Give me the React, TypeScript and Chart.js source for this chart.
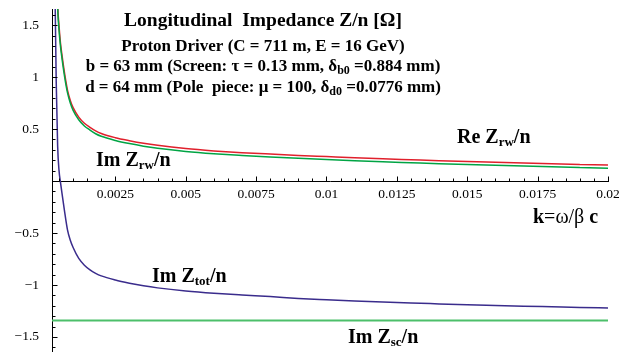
import React, { useEffect, useRef } from "react";
import { Chart, registerables } from "chart.js";

Chart.register(...registerables);

// k = omega / beta c
const K = [0.0003, 0.00035, 0.0004, 0.00045, 0.0005, 0.00055, 0.0006, 0.0007, 0.0008, 0.0009, 0.001, 0.0012, 0.0014, 0.0016, 0.0018, 0.002, 0.0025, 0.003, 0.0035, 0.004, 0.005, 0.006, 0.007, 0.008, 0.009, 0.01, 0.011, 0.012, 0.013, 0.014, 0.015, 0.016, 0.017, 0.018, 0.019, 0.02];
const RE_ZRW = [4.6, 3.38, 2.36, 1.72, 1.49, 1.33, 1.22, 1.03, 0.875, 0.775, 0.706, 0.615, 0.556, 0.516, 0.482, 0.457, 0.417, 0.388, 0.363, 0.343, 0.312, 0.29, 0.273, 0.259, 0.246, 0.235, 0.224, 0.214, 0.205, 0.196, 0.188, 0.181, 0.174, 0.167, 0.16, 0.153];
const IM_ZRW = [4.5, 3.3, 2.3, 1.68, 1.45, 1.3, 1.19, 1.0, 0.85, 0.75, 0.68, 0.59, 0.53, 0.49, 0.455, 0.43, 0.39, 0.36, 0.335, 0.315, 0.285, 0.263, 0.246, 0.231, 0.218, 0.206, 0.195, 0.185, 0.176, 0.167, 0.159, 0.151, 0.144, 0.137, 0.13, 0.123];
const IM_ZTOT = [3.2, 1.95, 0.95, 0.34, 0.1, -0.01, -0.11, -0.3, -0.47, -0.57, -0.64, -0.745, -0.81, -0.855, -0.888, -0.913, -0.953, -0.983, -1.008, -1.028, -1.058, -1.08, -1.097, -1.112, -1.13, -1.143, -1.155, -1.165, -1.174, -1.182, -1.19, -1.197, -1.204, -1.21, -1.216, -1.221];
const K_SC = [0.00025, 0.02];
const IM_ZSC = [-1.343, -1.343];

const X_MIN = 0.00025;
const X_MAX = 0.02;
const Y_MIN = -1.645;
const Y_MAX = 1.655;
const X_TICKS = [0.0025, 0.005, 0.0075, 0.01, 0.0125, 0.015, 0.0175, 0.02];
const X_TICK_LABELS = ["0.0025", "0.005", "0.0075", "0.01", "0.0125", "0.015", "0.0175", "0.02"];
const Y_TICKS = [-1.5, -1, -0.5, 0.5, 1, 1.5];
const Y_TICK_LABELS = ["\u22121.5", "\u22121", "\u22120.5", "0.5", "1", "1.5"];

const FAM = '"Liberation Serif", "Times New Roman", serif';

type Seg = { t: string; size: number; dy?: number; bold?: boolean };

function drawRich(ctx: CanvasRenderingContext2D, segs: Seg[], x: number, y: number, align: "left" | "center") {
  const fontOf = (s: Seg) => `${s.bold === false ? "" : "bold "}${s.size}px ${FAM}`;
  let total = 0;
  const widths = segs.map((s) => {
    ctx.font = fontOf(s);
    const w = ctx.measureText(s.t).width;
    total += w;
    return w;
  });
  let cx = align === "center" ? x - total / 2 : x;
  ctx.textAlign = "left";
  ctx.textBaseline = "alphabetic";
  ctx.fillStyle = "#000";
  segs.forEach((s, i) => {
    ctx.font = fontOf(s);
    ctx.fillText(s.t, cx, y + (s.dy || 0));
    cx += widths[i];
  });
}

const pts = (xs: number[], ys: number[]) => xs.map((x, i) => ({ x, y: ys[i] }));

const overlay = {
  id: "overlay",
  afterDraw(chart: any) {
    const ctx: CanvasRenderingContext2D = chart.ctx;
    const xs = chart.scales.x;
    const ys = chart.scales.y;
    const x0 = Math.round(xs.getPixelForValue(X_MIN)) + 0.5;
    const y0 = Math.round(ys.getPixelForValue(0)) + 0.5;
    ctx.save();
    ctx.strokeStyle = "#000";
    ctx.lineWidth = 1;
    ctx.beginPath();
    for (let i = 1; i <= 40; i++) {
      const v = i * 0.0005;
      if (v < X_MIN) continue;
      const px = Math.round(xs.getPixelForValue(v)) + 0.5;
      const len = i % 5 === 0 ? 5 : 3;
      ctx.moveTo(px, y0);
      ctx.lineTo(px, y0 - len);
    }
    for (let i = -16; i <= 16; i++) {
      if (i === 0) continue;
      const v = i * 0.1;
      const py = Math.round(ys.getPixelForValue(v)) + 0.5;
      const len = i % 5 === 0 ? 5 : 3;
      ctx.moveTo(x0, py);
      ctx.lineTo(x0 + len, py);
    }
    ctx.stroke();

    const cxT = 263;
    drawRich(ctx, [{ t: "Longitudinal  Impedance Z/n [\u03A9]", size: 19.5 }], cxT, 26, "center");
    drawRich(ctx, [{ t: "Proton Driver (C = 711 m, E = 16 GeV)", size: 17 }], cxT, 51, "center");
    drawRich(
      ctx,
      [
        { t: "b = 63 mm (Screen: \u03C4 = 0.13 mm, \u03B4", size: 17 },
        { t: "b0", size: 12, dy: 3 },
        { t: " =0.884 mm)", size: 17 },
      ],
      cxT,
      71,
      "center"
    );
    drawRich(
      ctx,
      [
        { t: "d = 64 mm (Pole  piece: \u03BC = 100, \u03B4", size: 17 },
        { t: "d0", size: 12, dy: 3 },
        { t: " =0.0776 mm)", size: 17 },
      ],
      cxT,
      92,
      "center"
    );

    const lab = (name: string, sub: string, x: number, y: number) =>
      drawRich(
        ctx,
        [
          { t: name, size: 20 },
          { t: sub, size: 13, dy: 3 },
          { t: "/n", size: 20 },
        ],
        x,
        y,
        "left"
      );
    lab("Im Z", "rw", 96, 166);
    lab("Re Z", "rw", 457, 143);
    lab("Im Z", "tot", 152, 282);
    lab("Im Z", "sc", 348, 343);
    drawRich(
      ctx,
      [
        { t: "k", size: 20 },
        { t: "=\u03C9/", size: 20, bold: false },
        { t: "\u03B2", size: 20, bold: false },
        { t: " c", size: 20 },
      ],
      533,
      223,
      "left"
    );
    ctx.restore();
  },
};

export default function App() {
  const ref = useRef<HTMLCanvasElement | null>(null);
  useEffect(() => {
    document.body.style.margin = "0";
    const canvas = ref.current;
    if (!canvas) return;
    const tickFont = { family: FAM, size: 13.5 };
    const chart = new Chart(canvas, {
      type: "scatter",
      data: {
        datasets: [
          {
            label: "Im Zsc/n",
            data: pts(K_SC, IM_ZSC),
            showLine: true,
            borderColor: "#4cbf6a",
            borderWidth: 2,
            pointRadius: 0,
          },
          {
            label: "Im Ztot/n",
            data: pts(K, IM_ZTOT),
            showLine: true,
            borderColor: "#3a2c8c",
            borderWidth: 1.5,
            pointRadius: 0,
            cubicInterpolationMode: "monotone",
          },
          {
            label: "Im Zrw/n",
            data: pts(K, IM_ZRW),
            showLine: true,
            borderColor: "#00a444",
            borderWidth: 1.5,
            pointRadius: 0,
            cubicInterpolationMode: "monotone",
          },
          {
            label: "Re Zrw/n",
            data: pts(K, RE_ZRW),
            showLine: true,
            borderColor: "#e0202c",
            borderWidth: 1.5,
            pointRadius: 0,
            cubicInterpolationMode: "monotone",
          },
        ],
      },
      options: {
        animation: false,
        responsive: false,
        events: [],
        layout: { padding: { top: 9, right: 28, bottom: 0, left: 0 } },
        plugins: { legend: { display: false }, tooltip: { enabled: false } },
        scales: {
          x: {
            type: "linear",
            position: { y: 0 } as any,
            min: X_MIN,
            max: X_MAX,
            grid: { display: false, drawTicks: false },
            border: { display: true, color: "#000", width: 1 },
            ticks: {
              padding: 5,
              font: tickFont,
              color: "#000",
              maxRotation: 0,
              autoSkip: false,
              callback: (v: any) => {
                const i = X_TICKS.findIndex((t) => Math.abs(t - Number(v)) < 1e-9);
                return i >= 0 ? X_TICK_LABELS[i] : "";
              },
            },
            afterBuildTicks: (s: any) => {
              s.ticks = X_TICKS.map((v) => ({ value: v }));
            },
            afterFit: (s: any) => {
              s.paddingLeft = 0;
              s.paddingRight = 0;
            },
          },
          y: {
            type: "linear",
            position: "left",
            min: Y_MIN,
            max: Y_MAX,
            grid: { display: false, drawTicks: false },
            border: { display: true, color: "#000", width: 1 },
            ticks: {
              padding: 13,
              font: tickFont,
              color: "#000",
              autoSkip: false,
              callback: (v: any) => {
                const i = Y_TICKS.findIndex((t) => Math.abs(t - Number(v)) < 1e-9);
                return i >= 0 ? Y_TICK_LABELS[i] : "";
              },
            },
            afterBuildTicks: (s: any) => {
              s.ticks = Y_TICKS.map((v) => ({ value: v }));
            },
            afterFit: (s: any) => {
              s.width = 52;
              s.paddingTop = 0;
              s.paddingBottom = 0;
            },
          },
        },
      },
      plugins: [overlay],
    } as any);
    return () => chart.destroy();
  }, []);
  return (
    <div style={{ width: 636, height: 352, position: "relative", background: "#fff" }}>
      <canvas ref={ref} width={636} height={352} style={{ display: "block" }} />
    </div>
  );
}
